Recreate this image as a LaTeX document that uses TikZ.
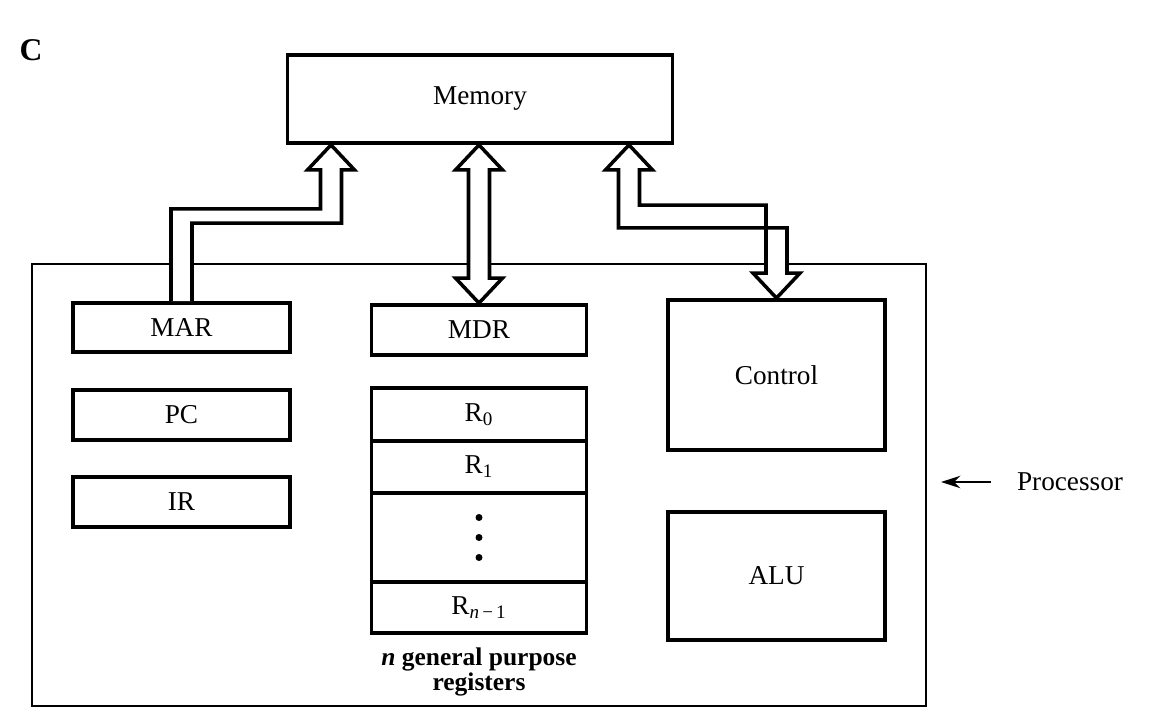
\documentclass[tikz,border=0pt]{standalone}
\usepackage{fontspec}
\setmainfont{Liberation Serif}
\usetikzlibrary{calc,positioning,arrows.meta}

\begin{document}
\begin{tikzpicture}[x=0.02cm,y=-0.02cm,>={Stealth[length=11pt,width=7pt]},
  unit/.style={draw,line width=2.2pt,minimum width=4.34cm,inner sep=0pt,font=\fontsize{15.5}{18}\selectfont},
  reg/.style={unit,minimum width=4.3cm,outer sep=0pt},
  fat/.style={draw,line width=2pt,fill=white,line join=miter}]
  \useasboundingbox (0,0) rectangle (1154,727);
  \node[font=\fontsize{18}{20}\selectfont\bfseries] (tag) at (31,50) {C};
  \node[draw,line width=1.2pt,minimum width=17.88cm,minimum height=8.84cm] (cpu) at (479,485) {};
  \node[unit,minimum width=7.7cm,minimum height=1.76cm] (mem) at (480,99) {Memory};
  \node[unit,minimum height=0.98cm] (mar) at (181.5,327.5) {MAR};
  \node[unit,minimum height=1cm] (pc) at (181.5,415) {PC};
  \node[unit,minimum height=1cm] (ir) at (181.5,502) {IR};
  \node[unit,minimum width=4.3cm,minimum height=1cm] (mdr) at (479,330) {MDR};
  \node[reg,minimum height=1.06cm] (r0) at (479,414.5) {R\textsubscript{0}};
  \node[reg,minimum height=1.04cm,below=0pt of r0] (r1) {R\textsubscript{1}};
  \node[reg,minimum height=1.78cm,below=0pt of r1] (rdots) {};
  \node[reg,minimum height=1.02cm,below=0pt of rdots] (rn) {R\textsubscript{\textit{n}\,−\,1}};
  \node[align=center,below=5pt of rn,font=\fontsize{14.5}{13}\selectfont\bfseries] (gpr) {\textit{n} general purpose\\registers};
  \node[unit,minimum height=3cm] (ctrl) at (776.5,375) {Control};
  \node[unit,minimum height=2.56cm] (alu) at (776.5,576) {ALU};
  \node[font=\fontsize{15.5}{18}\selectfont] (proc) at (1070,482) {Processor};
  \foreach \d in {-20,0,20}
    \fill ($(rdots.center)+(0,\d)$) circle (3.5);
  % buses to memory
  \coordinate (ltip) at ($(mem.south)+(-149,0)$);
  \coordinate (rtip) at ($(mem.south)+(149,0)$);
  \coordinate (mtop) at (mdr.north |- mem.south);
  \draw[fat] ($(mar.north)+(-10.5,0)$) |- ($(ltip)+(-10.5,64)$) -- ($(ltip)+(-10.5,25)$)
    -- ($(ltip)+(-23.5,25)$) -- (ltip) -- ($(ltip)+(23.5,25)$) -- ($(ltip)+(10.5,25)$)
    |- ($(mar.north)+(10.5,-78)$) -- ($(mar.north)+(10.5,0)$);
  \draw[fat] ($(mtop)+(-10.5,25)$) -- ($(mtop)+(-23.5,25)$) -- (mtop) -- ($(mtop)+(23.5,25)$)
    -- ($(mtop)+(10.5,25)$) -- ($(mdr.north)+(10.5,-25)$) -- ($(mdr.north)+(23.5,-25)$)
    -- (mdr.north) -- ($(mdr.north)+(-23.5,-25)$) -- ($(mdr.north)+(-10.5,-25)$) -- cycle;
  \draw[fat] ($(rtip)+(10.5,25)$) |- ($(ctrl.north)+(-10.5,-93)$) -- ($(ctrl.north)+(-10.5,-25)$)
    -- ($(ctrl.north)+(-23.5,-25)$) -- (ctrl.north) -- ($(ctrl.north)+(23.5,-25)$)
    -- ($(ctrl.north)+(10.5,-25)$) |- ($(rtip)+(-10.5,83)$) -- ($(rtip)+(-10.5,25)$)
    -- ($(rtip)+(-23.5,25)$) -- (rtip) -- ($(rtip)+(23.5,25)$) -- cycle;
  \draw[->,line width=1.4pt,shorten <=0.4cm,shorten >=0.28cm] (proc.west) -- (proc.west -| cpu.east);
\end{tikzpicture}
\end{document}
